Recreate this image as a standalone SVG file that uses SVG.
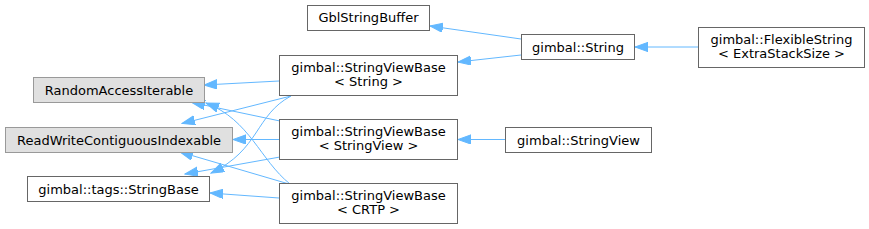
<svg xmlns="http://www.w3.org/2000/svg" width="869" height="229" viewBox="0 0 869 229">
<style>
.n rect{fill:#ffffff;stroke:#666666;stroke-width:1}
.g rect{fill:#e0e0e0;stroke:#999999;stroke-width:1}
text{font-family:"DejaVu Sans","Liberation Sans",sans-serif;font-size:13px;fill:#000000;text-anchor:middle}
.e path{fill:none;stroke:#63b8ff;stroke-width:1;marker-end:url(#ah)}
</style>
<defs>
<marker id="ah" markerUnits="userSpaceOnUse" markerWidth="14" markerHeight="10" refX="13" refY="4.65" orient="auto" viewBox="0 0 14 10">
<path d="M0,0 L13,4.65 L0,9.3 z" fill="#63b8ff" stroke="#63b8ff" stroke-width="1"/>
</marker>
</defs>
<rect width="869" height="229" fill="#ffffff"/>
<g class="e" id="edges">
<path d="M521,39 L430,26"/>
<path d="M521,55 L458,62"/>
<path d="M698,47 L635,47"/>
<path d="M505,139.5 L458,139.5"/>
<path d="M279,81 L204,85"/>
<path d="M291,96 L182,123.5"/>
<path d="M291,96 C255,115 260,150 211,173"/>
<path d="M280,121 L192,102.5"/>
<path d="M279,139.5 L233,139.5"/>
<path d="M280,157 L185,174"/>
<path d="M290,184 C260,160 250,120 206,103"/>
<path d="M289,184 L180,152"/>
<path d="M279,198 L210,193"/>
</g>
<g id="GblStringBuffer" class="n"><rect x="307.5" y="5.5" width="122" height="25"/><text x="368.5" y="22">GblStringBuffer</text></g>
<g id="String" class="n"><rect x="521.5" y="34.5" width="113" height="25"/><text x="578" y="51.5">gimbal::String</text></g>
<g id="FlexibleString" class="n"><rect x="698.5" y="27.5" width="166" height="40"/><text x="781.5" y="43.5">gimbal::FlexibleString</text><text x="781.5" y="57.5">&lt; ExtraStackSize &gt;</text></g>
<g id="SVBString" class="n"><rect x="279.5" y="55.5" width="178" height="40"/><text x="368.5" y="71.5">gimbal::StringViewBase</text><text x="368.5" y="85.5">&lt; String &gt;</text></g>
<g id="SVBStringView" class="n"><rect x="279.5" y="119.5" width="178" height="40"/><text x="368.5" y="135.5">gimbal::StringViewBase</text><text x="368.5" y="149.5">&lt; StringView &gt;</text></g>
<g id="SVBCRTP" class="n"><rect x="279.5" y="183.5" width="178" height="40"/><text x="368.5" y="199.5">gimbal::StringViewBase</text><text x="368.5" y="213.5">&lt; CRTP &gt;</text></g>
<g id="StringView" class="n"><rect x="505.5" y="127.5" width="146" height="25"/><text x="578.5" y="144.5">gimbal::StringView</text></g>
<g id="RandomAccessIterable" class="g"><rect x="33.5" y="77.5" width="171" height="25"/><text x="119" y="94.5">RandomAccessIterable</text></g>
<g id="ReadWriteContiguousIndexable" class="g"><rect x="5.5" y="127.5" width="227" height="25"/><text x="119" y="144.5">ReadWriteContiguousIndexable</text></g>
<g id="StringBase" class="n"><rect x="27.5" y="176.5" width="182" height="25"/><text x="118.5" y="193.5">gimbal::tags::StringBase</text></g>
</svg>
